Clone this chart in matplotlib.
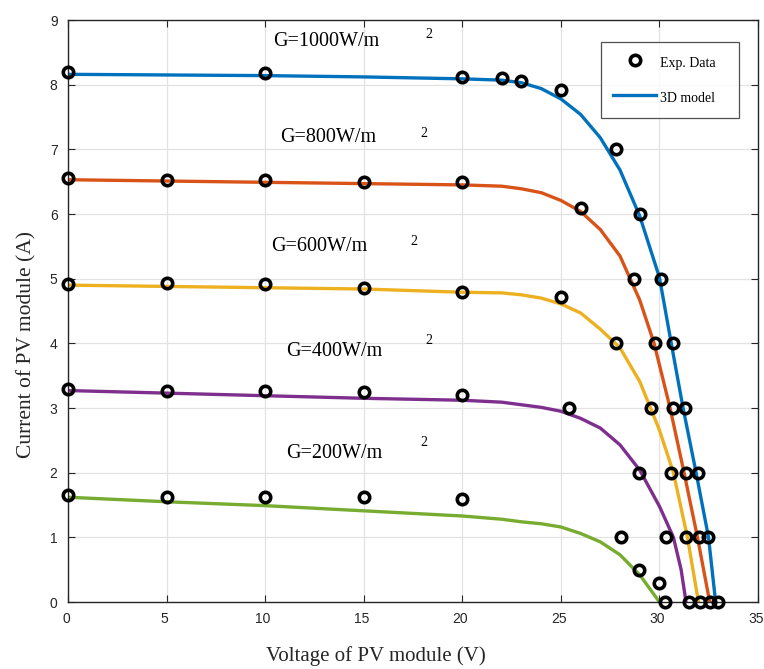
import numpy as np
import matplotlib.pyplot as plt
import matplotlib.transforms as mtransforms

# experimental points (V, A) for each irradiance
exp_v_1000 = [0, 10, 20, 22, 23, 25, 27.8, 29.0, 30.1, 30.7, 31.3, 31.95, 32.45, 32.95]
exp_i_1000 = [8.20, 8.18, 8.12, 8.11, 8.06, 7.92, 7.0, 6.0, 5.0, 4.0, 3.0, 2.0, 1.0, 0.0]
exp_v_800 = [0, 5, 10, 15, 20, 26.0, 28.7, 29.8, 30.7, 31.35, 32.0, 32.55]
exp_i_800 = [6.56, 6.53, 6.53, 6.49, 6.49, 6.09, 5.0, 4.0, 3.0, 2.0, 1.0, 0.0]
exp_v_600 = [0, 5, 10, 15, 20, 25, 27.8, 29.55, 30.6, 31.35, 32.05]
exp_i_600 = [4.92, 4.93, 4.91, 4.86, 4.8, 4.72, 4.0, 3.0, 2.0, 1.0, 0.0]
exp_v_400 = [0, 5, 10, 15, 20, 25.4, 28.95, 30.35, 31.5]
exp_i_400 = [3.29, 3.27, 3.27, 3.25, 3.2, 3.0, 2.0, 1.0, 0.0]
exp_v_200 = [0, 5, 10, 15, 20, 28.05, 28.95, 30.0, 30.3]
exp_i_200 = [1.65, 1.63, 1.63, 1.63, 1.6, 1.0, 0.5, 0.3, 0.0]

# 3D model curves
mod_v_1000 = [0, 5, 10, 15, 20, 22, 23, 24, 25, 26, 27, 28, 29, 30, 30.6, 31.2, 31.86, 32.49, 32.85]
mod_i_1000 = [8.16, 8.15, 8.14, 8.12, 8.09, 8.07, 8.03, 7.94, 7.78, 7.54, 7.18, 6.68, 5.97, 5.02, 4.0, 3.0, 2.0, 1.0, 0.0]
mod_v_800 = [0, 5, 10, 15, 20, 22, 23, 24, 25, 26, 27, 28, 29, 29.73, 30.54, 31.25, 31.93, 32.55]
mod_i_800 = [6.53, 6.51, 6.49, 6.47, 6.45, 6.43, 6.39, 6.33, 6.21, 6.04, 5.76, 5.35, 4.67, 4.0, 3.0, 2.0, 1.0, 0.0]
mod_v_600 = [0, 5, 10, 15, 20, 22, 23, 24, 25, 26, 27, 28, 29, 30, 30.71, 31.42, 31.98]
mod_i_600 = [4.90, 4.88, 4.86, 4.84, 4.79, 4.78, 4.75, 4.70, 4.61, 4.47, 4.22, 3.93, 3.41, 2.66, 2.0, 1.0, 0.0]
mod_v_400 = [0, 5, 10, 15, 20, 22, 23, 24, 25, 26, 27, 28, 29, 30, 30.71, 31.1, 31.35]
mod_i_400 = [3.27, 3.23, 3.19, 3.15, 3.12, 3.09, 3.05, 3.01, 2.95, 2.84, 2.69, 2.43, 2.04, 1.48, 1.0, 0.5, 0.0]
mod_v_200 = [0, 5, 10, 15, 20, 22, 23, 24, 25, 26, 27, 28, 29, 30]
mod_i_200 = [1.62, 1.55, 1.49, 1.41, 1.33, 1.28, 1.24, 1.21, 1.16, 1.06, 0.93, 0.73, 0.42, 0.0]

labels = ['G=1000W/m', 'G=800W/m', 'G=600W/m', 'G=400W/m', 'G=200W/m']
colors = ['#0072BD', '#D95319', '#EDB120', '#7E2F8E', '#77AC30']

exp_v = [exp_v_1000, exp_v_800, exp_v_600, exp_v_400, exp_v_200]
exp_i = [exp_i_1000, exp_i_800, exp_i_600, exp_i_400, exp_i_200]
mod_v = [mod_v_1000, mod_v_800, mod_v_600, mod_v_400, mod_v_200]
mod_i = [mod_i_1000, mod_i_800, mod_i_600, mod_i_400, mod_i_200]

# where the labels sit (V, A) and their misplaced superscripts
label_pos = [(10.4, 8.67), (10.75, 7.18), (10.3, 5.5), (11.05, 3.87), (11.05, 2.30)]
sup_pos = [(18.3, 8.78), (18.05, 7.25), (17.55, 5.58), (18.3, 4.04), (18.05, 2.46)]

serif = 'Liberation Serif'
plt.rcParams['font.family'] = 'Liberation Sans'

fig = plt.figure(figsize=(7.64, 6.69), dpi=100)
ax = fig.add_axes([68 / 764, 67 / 669, 690 / 764, 582 / 669])

for k in range(5):
    ax.plot(mod_v[k], mod_i[k], color=colors[k], lw=2.4, zorder=2,
            label='3D model' if k == 0 else None)
for k in range(5):
    ax.plot(exp_v[k], exp_i[k], 'o', mfc='none', mec='black', ms=7.5, mew=2.6,
            zorder=3, clip_on=False, label='Exp. Data' if k == 0 else None)

for k in range(5):
    ax.text(label_pos[k][0], label_pos[k][1], labels[k], family=serif,
            fontsize=14.5, va='center', ha='left')
    ax.text(sup_pos[k][0], sup_pos[k][1], '2', family=serif, fontsize=10,
            va='center', ha='center')

ax.set_xlim(0, 35)
ax.set_ylim(0, 9)
ax.set_xticks(np.arange(0, 36, 5))
ax.set_yticks(np.arange(0, 10, 1))
ax.grid(True, color='#e3e3e3', lw=0.9)
ax.set_axisbelow(True)
ax.tick_params(direction='in', length=5, width=0.8, top=True, right=True,
               labelsize=10, labelcolor='#262626', color='#262626', pad=7.5)
for s in ax.spines.values():
    s.set_color('#262626')
    s.set_linewidth(1.0)

# x tick labels sit a touch left of their ticks in the original
shift = mtransforms.ScaledTranslation(-2 / 100, 0, fig.dpi_scale_trans)
for t in ax.get_xticklabels():
    t.set_transform(t.get_transform() + shift)

ax.set_xlabel('Voltage of PV module (V)', family=serif, fontsize=15, color='#262626')
ax.xaxis.set_label_coords(0.446, -0.075)
ax.set_ylabel('Current of PV module (A)', family=serif, fontsize=15.5, color='#262626')
ax.yaxis.set_label_coords(-0.046, 0.443)

h, l = ax.get_legend_handles_labels()
leg = ax.legend([h[1], h[0]], [l[1], l[0]], loc='upper left',
                bbox_to_anchor=(0.773, 0.831, 0.199, 0.132), mode='expand',
                prop={'family': serif, 'size': 10},
                frameon=True, fancybox=False, handlelength=3.1, handleheight=1.7,
                labelspacing=1.14, borderpad=0.85, handletextpad=0.3, borderaxespad=0)
leg.get_frame().set_edgecolor('#262626')
leg.get_frame().set_linewidth(0.9)

fig.savefig('out.png', dpi=100)
